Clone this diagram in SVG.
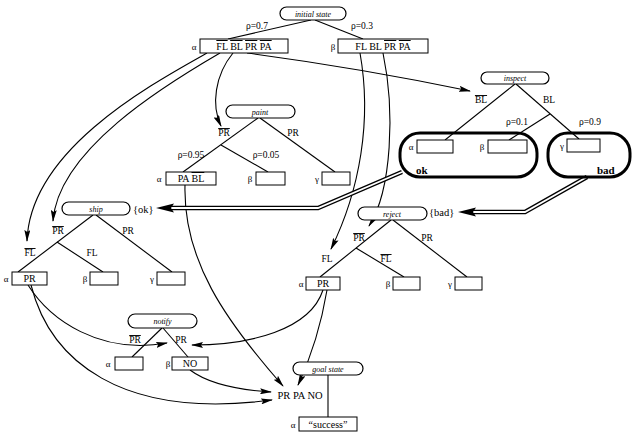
<svg xmlns="http://www.w3.org/2000/svg" width="635" height="435" viewBox="0 0 635 435">
<defs>
<marker id="ah" viewBox="0 0 12 6" refX="11" refY="3" markerWidth="12" markerHeight="6" markerUnits="userSpaceOnUse" orient="auto"><path d="M0,0 L12,3 L0,6 L2,3 z" fill="#000"/></marker>
</defs>
<style>
text{font-family:"Liberation Serif","Times New Roman",serif;fill:#000}
.pill{fill:#fff;stroke:#000;stroke-width:1.2}
.nm{font-size:8px;font-style:italic;text-anchor:middle}
.box{fill:#fff;stroke:#000;stroke-width:1}
.bt{font-size:10px;text-anchor:middle}
.gl{font-size:9px;text-anchor:middle}
.lb{font-size:9.5px;text-anchor:middle}
.br{fill:none;stroke:#000;stroke-width:1.1}
.ar{fill:none;stroke:#000;stroke-width:1.1;marker-end:url(#ah)}
.ob{text-decoration:overline}
.cl{fill:none;stroke:#000;stroke-width:3}
.dbo{fill:none;stroke:#000;stroke-width:4.5}
.dbi{fill:none;stroke:#fff;stroke-width:1.8}
.big{font-size:11px;font-weight:bold}
.set{font-size:10.5px}
</style>
<rect width="635" height="435" fill="#fff"/>

<g id="connectors">
<path class="ar" d="M207,53 C150,85 30,150 27,241"/>
<path class="ar" d="M220,53 C165,85 58,150 53,221"/>
<path class="ar" d="M233,53 C215,75 211,105 221,126"/>
<path class="ar" d="M247,53 Q360,68 470,91"/>
<path class="ar" d="M360,53 C372,120 360,190 331,249"/>
<path class="ar" d="M383,53 C395,110 392,190 369,226"/>
<path class="ar" d="M185,185 C183,260 225,320 283,386"/>
<path class="ar" d="M28,285 C50,320 100,355 167,343"/>
<path class="ar" d="M31,285 C50,360 120,420 272,400"/>
<path class="ar" d="M190,370 C210,385 240,390 271,392"/>
<path class="ar" d="M323,290 C310,330 250,345 192,345"/>
<path class="ar" d="M327,290 C322,320 312,355 298,385"/>
<path class="dbo" d="M402,172 L318,208 L170,208"/>
<path class="dbi" d="M402,172 L318,208 L170,208"/>
<polygon points="156,208 174,203.5 171,208 174,212.5" fill="#000"/>
<path class="dbo" d="M587,177 L525,212 L472,212"/>
<path class="dbi" d="M587,177 L525,212 L472,212"/>
<polygon points="458,212 476,207.5 473,212 476,216.5" fill="#000"/>
</g>

<g id="initial-state">
<line class="br" x1="311" y1="20" x2="228" y2="39"/>
<line class="br" x1="315" y1="20" x2="363" y2="39"/>
<rect class="pill" x="280" y="7" width="66" height="13" rx="6.5"/>
<text class="nm" x="313" y="16.5">initial state</text>
<text class="lb" x="257" y="29">ρ=0.7</text>
<text class="lb" x="362" y="29">ρ=0.3</text>
<text class="gl" x="194" y="50">α</text>
<rect class="box" x="200" y="39" width="88" height="14"/>
<text class="bt" x="244" y="50"><tspan class="ob">FL</tspan> <tspan class="ob">BL</tspan> <tspan class="ob">PR</tspan> <tspan class="ob">PA</tspan></text>
<text class="gl" x="333" y="50">β</text>
<rect class="box" x="338" y="39" width="90" height="14"/>
<text class="bt" x="383" y="50">FL BL <tspan class="ob">PR</tspan> <tspan class="ob">PA</tspan></text>
</g>

<g id="inspect">
<line class="br" x1="515" y1="84" x2="445" y2="140"/>
<line class="br" x1="516" y1="84" x2="579" y2="139"/>
<line class="br" x1="550" y1="114" x2="509" y2="140"/>
<rect class="pill" x="481" y="72" width="68" height="12" rx="6"/>
<text class="nm" x="515" y="81">inspect</text>
<text class="lb" x="481" y="103"><tspan class="ob">BL</tspan></text>
<text class="lb" x="549" y="103">BL</text>
<text class="lb" x="517" y="125">ρ=0.1</text>
<text class="lb" x="590" y="125">ρ=0.9</text>
<rect class="cl" x="400" y="133" width="137" height="44" rx="20"/>
<rect class="cl" x="548" y="133" width="82" height="44" rx="20"/>
<text class="gl" x="411" y="150">α</text>
<rect class="box" x="417" y="140" width="36" height="13"/>
<text class="gl" x="482" y="150">β</text>
<rect class="box" x="488" y="140" width="39" height="13"/>
<text class="gl" x="562" y="149">γ</text>
<rect class="box" x="567" y="139" width="33" height="13"/>
<text class="big" x="416" y="174">ok</text>
<text class="big" x="597" y="174">bad</text>
</g>

<g id="paint">
<line class="br" x1="258" y1="118" x2="183" y2="172"/>
<line class="br" x1="221" y1="145" x2="268" y2="172"/>
<line class="br" x1="260" y1="118" x2="335" y2="172"/>
<rect class="pill" x="226" y="105" width="69" height="13" rx="6.5"/>
<text class="nm" x="260" y="114.5">paint</text>
<text class="lb" x="224" y="136"><tspan class="ob">PR</tspan></text>
<text class="lb" x="293" y="136">PR</text>
<text class="lb" x="191" y="158">ρ=0.95</text>
<text class="lb" x="266" y="158">ρ=0.05</text>
<text class="gl" x="159" y="182">α</text>
<rect class="box" x="166" y="172" width="50" height="13"/>
<text class="bt" x="191" y="182">PA <tspan class="ob">BL</tspan></text>
<text class="gl" x="250" y="182">β</text>
<rect class="box" x="256" y="172" width="29" height="13"/>
<text class="gl" x="317" y="182">γ</text>
<rect class="box" x="322" y="172" width="28" height="13"/>
</g>

<g id="ship">
<line class="br" x1="93" y1="215" x2="18" y2="272"/>
<line class="br" x1="57" y1="242" x2="103" y2="272"/>
<line class="br" x1="96" y1="215" x2="172" y2="272"/>
<rect class="pill" x="62" y="202" width="68" height="13" rx="6.5"/>
<text class="nm" x="96" y="211.5">ship</text>
<text class="set" x="133" y="213">{ok}</text>
<text class="lb" x="58" y="234"><tspan class="ob">PR</tspan></text>
<text class="lb" x="128" y="234">PR</text>
<text class="lb" x="30" y="256"><tspan class="ob">FL</tspan></text>
<text class="lb" x="92" y="256">FL</text>
<text class="gl" x="6" y="282">α</text>
<rect class="box" x="12" y="272" width="35" height="13"/>
<text class="bt" x="29.5" y="282">PR</text>
<text class="gl" x="85" y="282">β</text>
<rect class="box" x="90" y="272" width="28" height="13"/>
<text class="gl" x="152" y="282">γ</text>
<rect class="box" x="157" y="272" width="28" height="13"/>
</g>

<g id="reject">
<line class="br" x1="391" y1="220" x2="320" y2="277"/>
<line class="br" x1="356" y1="248" x2="404" y2="277"/>
<line class="br" x1="393" y1="220" x2="467" y2="277"/>
<rect class="pill" x="358" y="207" width="69" height="13" rx="6.5"/>
<text class="nm" x="392" y="216.5">reject</text>
<text class="set" x="429" y="216">{bad}</text>
<text class="lb" x="359" y="241"><tspan class="ob">PR</tspan></text>
<text class="lb" x="427" y="241">PR</text>
<text class="lb" x="327" y="262">FL</text>
<text class="lb" x="386" y="262"><tspan class="ob">FL</tspan></text>
<text class="gl" x="301" y="287">α</text>
<rect class="box" x="306" y="277" width="34" height="13"/>
<text class="bt" x="323" y="287">PR</text>
<text class="gl" x="388" y="287">β</text>
<rect class="box" x="393" y="277" width="27" height="13"/>
<text class="gl" x="450" y="287">γ</text>
<rect class="box" x="455" y="277" width="27" height="13"/>
</g>

<g id="notify">
<line class="br" x1="162" y1="328" x2="132" y2="357"/>
<line class="br" x1="163" y1="328" x2="188" y2="357"/>
<rect class="pill" x="128" y="314" width="69" height="14" rx="7"/>
<text class="nm" x="162.5" y="324">notify</text>
<text class="lb" x="135" y="343"><tspan class="ob">PR</tspan></text>
<text class="lb" x="181" y="343">PR</text>
<text class="gl" x="108" y="367">α</text>
<rect class="box" x="115" y="357" width="28" height="13"/>
<text class="gl" x="168" y="367">β</text>
<rect class="box" x="172" y="357" width="36" height="13"/>
<text class="bt" x="190" y="367">NO</text>
</g>

<g id="goal-state">
<line class="br" x1="328" y1="375" x2="328" y2="417"/>
<rect class="pill" x="293" y="362" width="70" height="13" rx="6.5"/>
<text class="nm" x="328" y="371.5">goal state</text>
<text class="set" x="300" y="399" text-anchor="middle">PR PA NO</text>
<text class="gl" x="293" y="428">α</text>
<rect class="box" x="299" y="417" width="58" height="14"/>
<text class="bt" x="328" y="428">“success”</text>
</g>
</svg>
